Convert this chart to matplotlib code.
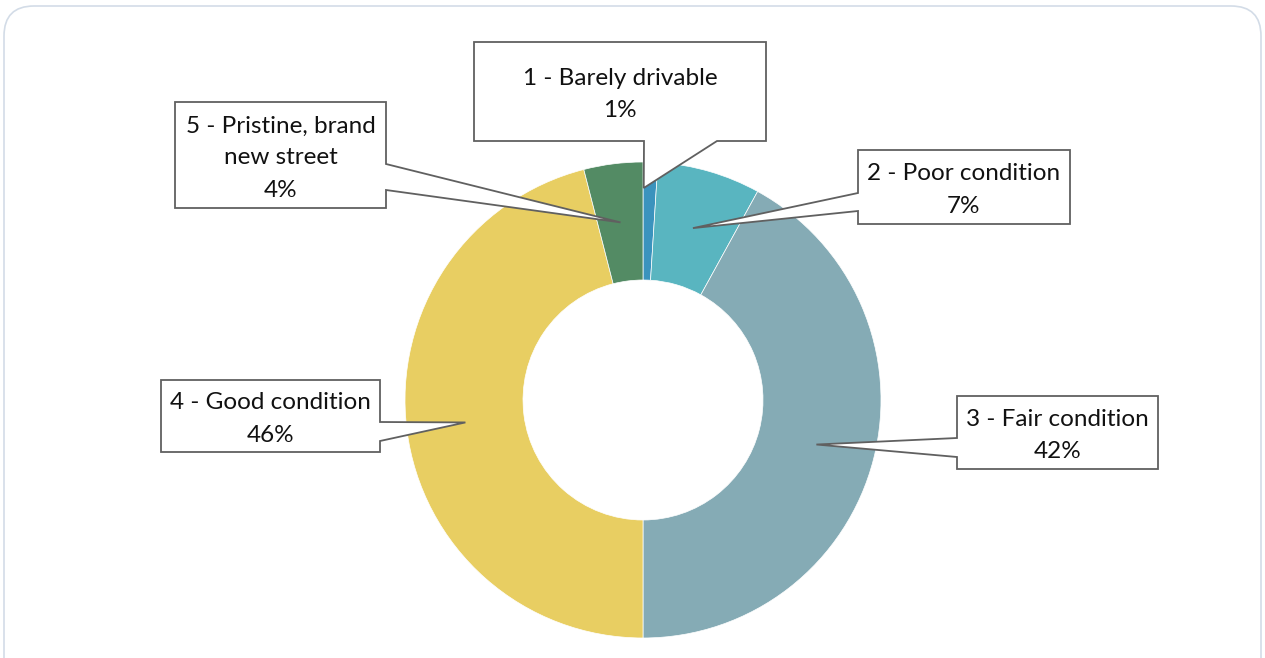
import matplotlib.pyplot as plt
import numpy as np
from matplotlib.patches import Polygon, FancyBboxPatch

# road condition ratings, share of responses
labels = ['1 - Barely drivable', '2 - Poor condition', '3 - Fair condition',
          '4 - Good condition', '5 - Pristine, brand\nnew street']
values = [1, 7, 42, 46, 4]
colors = ['#3B93BD', '#59B5C0', '#85ABB5', '#E8CE62', '#538B64']

W, H = 1265, 658
CX, CY = 643, 400          # donut centre, pixels from top
R_OUT, R_IN = 238, 120

# callout boxes (left, top, right, bottom) in pixels from top
boxes = [(474, 42, 766, 141), (858, 150, 1070, 224), (957, 396, 1158, 469),
         (161, 380, 380, 452), (175, 102, 386, 208)]
# where each pointer leaves its box
bases = [((644, 141), (717, 141)), ((858, 193), (858, 211)),
         ((957, 438), (957, 457)), ((380, 422), (380, 441)),
         ((386, 164), (386, 190))]
tip_r = [212, 179, 179, 179, 179]

plt.rcParams['font.family'] = ['Lato', 'DejaVu Sans']

fig = plt.figure(figsize=(W / 100, H / 100), dpi=100)
ax = fig.add_axes([0, 0, 1, 1])


def fy(y):
    return H - y


wedges, _ = ax.pie(values, colors=colors, startangle=90, counterclock=False,
                   center=(CX, fy(CY)), radius=R_OUT,
                   wedgeprops=dict(width=R_OUT - R_IN, edgecolor='white', linewidth=0.5))
ax.set_xlim(0, W)
ax.set_ylim(0, H)
ax.axis('off')

# outer rounded frame
frame = FancyBboxPatch((4, -40), W - 8, fy(6) + 40, boxstyle='round,pad=0,rounding_size=30',
                       facecolor='none', edgecolor='#D3DCE7', linewidth=1.2)
ax.add_patch(frame)

for i, w in enumerate(wedges):
    mid = np.deg2rad((w.theta1 + w.theta2) / 2)
    if i == 0:
        mid = np.deg2rad(w.theta2 - 0.2)
    tx = CX + tip_r[i] * np.cos(mid)
    ty = fy(CY) + tip_r[i] * np.sin(mid)
    l, t, r, b = boxes[i]
    (b1x, b1y), (b2x, b2y) = bases[i]
    # insert pointer into the edge it starts from
    if b1y == b2y and b1y == b:          # bottom edge
        pts = [(l, t), (r, t), (r, b), (b2x, b), None, (b1x, b), (l, b)]
    elif b1x == l:                       # left edge
        pts = [(l, t), (r, t), (r, b), (l, b), (l, b2y), None, (l, b1y)]
    else:                                # right edge
        pts = [(l, t), (r, t), (r, b1y), None, (r, b2y), (r, b), (l, b)]
    pts = [(tx, ty) if p is None else (p[0], fy(p[1])) for p in pts]
    ax.add_patch(Polygon(pts, closed=True, facecolor='white', edgecolor='#606060',
                         linewidth=1.3, zorder=5, joinstyle='miter'))
    ax.text((l + r) / 2, fy((t + b) / 2 + 3), f'{labels[i]}\n{values[i]}%',
            ha='center', va='center', multialignment='center',
            fontsize=17.5, color='#111111', linespacing=1.65, zorder=6)

fig.savefig('out.png', dpi=100)
